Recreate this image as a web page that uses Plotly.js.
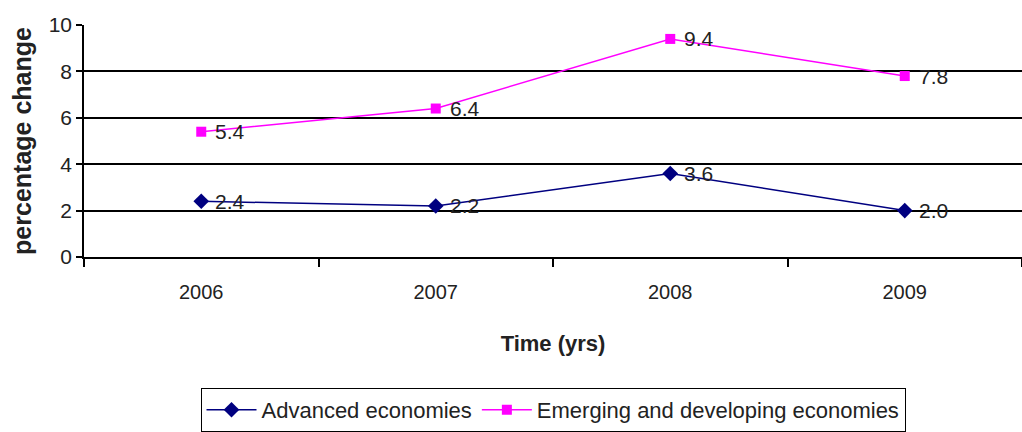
<!DOCTYPE html>
<html>
<head>
<meta charset="utf-8">
<script src="https://cdn.plot.ly/plotly-3.0.1.min.js"></script>
<style>
  html, body { margin: 0; padding: 0; background: #fff; }
  #chart { width: 1022px; height: 432px; }
</style>
</head>
<body>
<div id="chart"></div>
<script>
// Annual percentage change by economy group
const years = ['2006', '2007', '2008', '2009'];
const advanced = [2.4, 2.2, 3.6, 2.0];
const emerging = [5.4, 6.4, 9.4, 7.8];
const yTicks = [0, 2, 4, 6, 8, 10];

const FONT = 'Arial, "Liberation Sans", sans-serif';

const series = [
  { name: 'Advanced economies', values: advanced, color: '#000080', symbol: 'diamond', size: 12 },
  { name: 'Emerging and developing economies', values: emerging, color: '#FF00FF', symbol: 'square', size: 10 }
];

const traces = series.map(s => ({
  name: s.name,
  x: years, y: s.values,
  type: 'scatter', mode: 'lines+markers',
  line: { color: s.color, width: 1.5 },
  marker: { symbol: s.symbol, size: s.size, color: s.color }
}));

// value labels sit just right of each point
const annotations = [];
series.forEach(s => {
  s.values.forEach((v, i) => {
    annotations.push({
      x: i, y: v, xref: 'x', yref: 'y',
      text: v.toFixed(1), showarrow: false,
      xanchor: 'left', yanchor: 'middle',
      xshift: 12, yshift: 0,
      font: { family: FONT, size: 21, color: '#222' }
    });
  });
});

const layout = {
  width: 1022, height: 432,
  margin: { l: 84, r: 0, t: 25, b: 172 },
  paper_bgcolor: '#fff', plot_bgcolor: '#fff',
  font: { family: FONT, size: 20, color: '#222' },
  showlegend: true,
  legend: {
    orientation: 'h',
    x: 0.5, xanchor: 'center',
    y: -0.566, yanchor: 'top',
    bordercolor: '#000', borderwidth: 1,
    itemwidth: 50,
    font: { size: 22, color: '#222' }
  },
  annotations: annotations,
  xaxis: {
    type: 'category',
    range: [-0.5, 3.5],
    tickson: 'boundaries',
    ticks: 'outside', ticklen: 8, tickcolor: '#000', tickwidth: 1.5,
    showgrid: false, zeroline: false,
    showline: true, linecolor: '#000', linewidth: 1.5,
    ticklabelstandoff: 16,
    tickfont: { size: 20, color: '#222' },
    title: { text: '<b>Time (yrs)</b>', font: { size: 22, color: '#222' }, standoff: 34 }
  },
  yaxis: {
    range: [0, 10],
    tickvals: yTicks,
    ticktext: yTicks.map(String),
    ticks: 'outside', ticklen: 6, tickcolor: '#000', tickwidth: 2,
    showgrid: true, gridcolor: '#000', gridwidth: 2,
    zeroline: false,
    showline: true, linecolor: '#000', linewidth: 1.5,
    tickfont: { size: 21, color: '#222' },
    title: { text: '<b>percentage change</b>', font: { size: 25, color: '#222' }, standoff: 10 }
  }
};

Plotly.newPlot('chart', traces, layout, { displayModeBar: false });
</script>
</body>
</html>
